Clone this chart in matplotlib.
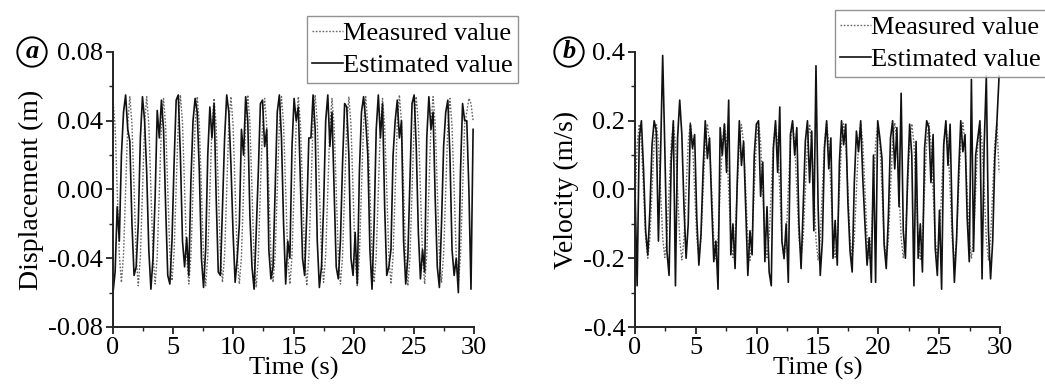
import numpy as np
import matplotlib
matplotlib.use("Agg")
import matplotlib.pyplot as plt
from matplotlib.ticker import MultipleLocator, FuncFormatter

plt.rcParams['font.family'] = ['Liberation Serif', 'DejaVu Serif']

DT = 0.175  # sampling step of the read-off values (s)

disp_measured = [
    0.052, 0.037, 0.000, -0.038, -0.054, -0.038, 0.000, 0.038,
    0.054, 0.038, 0.001, -0.039, -0.056, -0.039, -0.001, 0.038,
    0.054, 0.038, 0.000, -0.038, -0.055, -0.039, 0.000, 0.037,
    0.053, 0.037, -0.001, -0.037, -0.053, -0.037, 0.001, 0.039,
    0.055, 0.039, 0.000, -0.039, -0.055, -0.039, 0.000, 0.038,
    0.054, 0.038, 0.000, -0.040, -0.056, -0.039, -0.001, 0.037,
    0.053, 0.037, 0.001, -0.038, -0.054, -0.038, 0.000, 0.038,
    0.054, 0.038, 0.000, -0.039, -0.055, -0.039, 0.000, 0.039,
    0.055, 0.039, -0.001, -0.040, -0.057, -0.040, 0.001, 0.037,
    0.053, 0.037, 0.000, -0.038, -0.054, -0.038, 0.000, 0.038,
    0.054, 0.038, 0.000, -0.039, -0.055, -0.039, 0.000, 0.038,
    0.054, 0.038, 0.001, -0.039, -0.056, -0.039, -0.001, 0.039,
    0.055, 0.039, 0.000, -0.038, -0.054, -0.038, 0.000, 0.037,
    0.053, 0.037, 0.000, -0.039, -0.055, -0.039, 0.000, 0.038,
    0.054, 0.038, -0.001, -0.040, -0.056, -0.039, 0.001, 0.038,
    0.054, 0.038, 0.000, -0.038, -0.054, -0.038, 0.000, 0.037,
    0.053, 0.037, 0.000, -0.039, -0.055, -0.039, 0.000, 0.039,
    0.055, 0.039, 0.001, -0.039, -0.056, -0.040, -0.001, 0.038,
    0.054, 0.038, 0.000, -0.039, -0.055, -0.038, 0.000, 0.038,
    0.054, 0.038, 0.000, -0.038, -0.054, -0.038, 0.000, 0.037,
    0.053, 0.037, 0.000, -0.039, -0.055, -0.039, 0.000, 0.038,
    0.045, 0.053, 0.050, 0.040,
]

disp_estimated = [
    -0.060, -0.048, -0.010, -0.030, 0.020, 0.045, 0.055, 0.035,
    0.028, -0.020, -0.050, -0.045, -0.020, 0.030, 0.054, 0.040,
    0.010, -0.035, -0.058, -0.040, -0.005, 0.046, 0.030, 0.052,
    0.035, -0.010, -0.050, -0.055, -0.030, 0.015, 0.052, 0.055,
    0.020, -0.030, -0.045, -0.028, -0.050, 0.005, 0.040, 0.053,
    0.045, 0.010, -0.040, -0.057, -0.035, 0.020, 0.048, 0.030,
    0.050, -0.005, -0.048, -0.050, -0.010, 0.030, 0.055, 0.045,
    0.015, -0.025, -0.054, -0.040, -0.020, 0.035, 0.020, 0.054,
    0.040, -0.015, -0.045, -0.058, -0.025, 0.010, 0.050, 0.052,
    0.025, 0.035, -0.035, -0.052, -0.045, 0.000, 0.045, 0.055,
    0.030, -0.020, -0.055, -0.030, -0.040, 0.025, 0.053, 0.040,
    0.048, 0.005, -0.040, -0.050, -0.015, 0.030, 0.030, 0.055,
    0.035, -0.030, -0.057, -0.045, -0.010, 0.040, 0.055, 0.025,
    0.045, 0.000, -0.045, -0.052, -0.030, 0.015, 0.050, 0.048,
    0.020, -0.040, -0.050, -0.025, -0.055, 0.010, 0.045, 0.054,
    0.040, 0.020, -0.035, -0.058, -0.020, 0.035, 0.055, 0.030,
    0.050, -0.010, -0.050, -0.045, -0.035, 0.020, 0.040, 0.052,
    0.030, 0.040, -0.030, -0.055, -0.040, 0.005, 0.050, 0.055,
    0.025, -0.025, -0.052, -0.035, -0.048, 0.030, 0.054, 0.035,
    0.045, -0.005, -0.045, -0.057, -0.020, 0.025, 0.045, 0.052,
    0.020, -0.035, -0.050, -0.040, -0.060, 0.010, 0.050, 0.040,
    0.040, 0.000, -0.058, 0.035,
]

vel_measured = [
    -0.050, 0.130, 0.190, 0.134, 0.000, -0.142, -0.200, -0.141,
    0.001, 0.136, 0.193, 0.136, 0.001, -0.140, -0.198, -0.140,
    0.000, 0.134, 0.190, 0.134, -0.001, -0.145, -0.205, -0.145,
    0.000, 0.137, 0.194, 0.137, 0.000, -0.139, -0.196, -0.139,
    0.001, 0.135, 0.191, 0.135, 0.000, -0.143, -0.202, -0.143,
    0.000, 0.136, 0.192, 0.136, 0.001, -0.140, -0.198, -0.140,
    -0.001, 0.134, 0.189, 0.134, 0.000, -0.146, -0.206, -0.146,
    0.000, 0.138, 0.195, 0.138, 0.000, -0.140, -0.198, -0.140,
    0.000, 0.135, 0.191, 0.135, -0.001, -0.143, -0.202, -0.143,
    0.001, 0.136, 0.193, 0.136, 0.000, -0.141, -0.199, -0.141,
    0.000, 0.134, 0.190, 0.134, 0.000, -0.145, -0.205, -0.145,
    0.000, 0.137, 0.194, 0.137, 0.001, -0.139, -0.197, -0.139,
    -0.001, 0.135, 0.191, 0.135, 0.000, -0.143, -0.202, -0.143,
    0.000, 0.136, 0.192, 0.136, 0.000, -0.141, -0.200, -0.141,
    0.001, 0.134, 0.190, 0.134, 0.000, -0.146, -0.207, -0.146,
    0.000, 0.137, 0.194, 0.137, -0.001, -0.140, -0.198, -0.140,
    0.000, 0.135, 0.191, 0.135, 0.000, -0.144, -0.203, -0.144,
    0.001, 0.136, 0.193, 0.136, 0.000, -0.141, -0.199, -0.141,
    0.000, 0.134, 0.190, 0.134, 0.001, -0.148, -0.210, -0.148,
    0.000, 0.137, 0.194, 0.137, 0.000, -0.142, -0.201, -0.142,
    -0.001, 0.135, 0.191, 0.135, 0.000, -0.145, -0.205, -0.145,
    0.000, 0.136, 0.192, 0.050,
]

vel_estimated = [
    0.000, -0.280, 0.150, 0.200, 0.060, -0.120, -0.190, -0.060,
    0.130, 0.200, 0.170, -0.150, 0.100, 0.390, 0.120, -0.180,
    -0.250, 0.080, 0.200, -0.280, 0.150, 0.260, 0.160, -0.050,
    -0.200, -0.100, 0.190, 0.120, 0.160, -0.080, -0.220, -0.130,
    0.060, 0.200, 0.090, 0.150, -0.040, -0.210, -0.150, -0.290,
    0.180, 0.100, 0.190, 0.050, 0.260, -0.190, -0.100, -0.230,
    0.020, 0.200, 0.070, 0.140, -0.060, -0.250, -0.120, -0.190,
    0.100, 0.190, 0.200, -0.020, 0.080, -0.210, -0.050, -0.240,
    -0.280, 0.120, 0.200, 0.050, 0.240, -0.150, -0.200, -0.100,
    -0.270, 0.160, 0.200, 0.100, 0.180, -0.100, -0.230, -0.050,
    0.140, 0.200, 0.020, 0.170, -0.120, 0.360, -0.050, -0.250,
    -0.150, 0.120, 0.200, 0.060, 0.150, -0.200, -0.090, -0.220,
    0.080, 0.200, 0.130, 0.190, -0.040, -0.180, -0.240, 0.020,
    0.170, 0.110, 0.200, 0.030, -0.100, -0.220, -0.140, -0.270,
    0.100, -0.270, 0.200, 0.150, 0.090, -0.160, -0.230, -0.080,
    0.150, 0.200, 0.060, 0.180, -0.050, 0.280, -0.120, -0.200,
    0.030, 0.190, 0.100, -0.280, 0.140, -0.200, -0.100, -0.240,
    0.120, 0.200, 0.180, 0.020, 0.160, -0.170, -0.250, -0.060,
    -0.290, 0.130, 0.200, 0.070, 0.190, -0.100, -0.270, -0.150,
    0.050, 0.200, 0.110, 0.160, -0.080, -0.210, 0.320, -0.180,
    0.100, 0.150, 0.200, -0.260, 0.130, 0.330, -0.120, -0.260,
    -0.150, 0.090, 0.200, 0.330,
]

legend_labels = ["Measured value", "Estimated value"]
x_label = "Time (s)"
y_labels = ["Displacement (m)", "Velocity (m/s)"]
panel_tags = ["a", "b"]

t = np.arange(len(disp_measured)) * DT

W, H = 1045, 387
fig = plt.figure(figsize=(W / 100, H / 100), dpi=100)

def frac(l, r, top, bot):
    return [l / W, 1 - bot / H, (r - l) / W, (bot - top) / H]

FS = 19
axc = "#222222"

def style(ax, ylim, ymaj, ymin, fmt):
    ax.set_xlim(0, 30)
    ax.set_ylim(*ylim)
    ax.spines['top'].set_visible(False)
    ax.spines['right'].set_visible(False)
    for s in ('left', 'bottom'):
        ax.spines[s].set_linewidth(1.4)
        ax.spines[s].set_color(axc)
    ax.xaxis.set_major_locator(MultipleLocator(5))
    ax.xaxis.set_minor_locator(MultipleLocator(2.5))
    ax.yaxis.set_major_locator(MultipleLocator(ymaj))
    ax.yaxis.set_minor_locator(MultipleLocator(ymin))
    ax.yaxis.set_major_formatter(FuncFormatter(lambda v, p: fmt % v if abs(v) > 1e-9 else fmt % 0))
    ax.tick_params(which='major', direction='out', length=5, width=1.3, labelsize=FS, colors=axc, labelcolor='black', pad=2)
    ax.tick_params(which='minor', direction='out', length=3, width=1.0, colors=axc)
    ax.set_xlabel(x_label, fontsize=FS, labelpad=-1)

panels = [
    dict(rect=frac(113, 474, 52, 327), meas=disp_measured, est=disp_estimated,
         ylim=(-0.08, 0.08), ymaj=0.04, ymin=0.02, fmt="%.2f",
         leg=(307 / W, 1 - 16 / H), tag=(32, 52), ylab=y_labels[0]),
    dict(rect=frac(635, 1000, 52, 327), meas=vel_measured, est=vel_estimated,
         ylim=(-0.4, 0.4), ymaj=0.2, ymin=0.1, fmt="%.1f",
         leg=(835 / W, 1 - 10 / H), tag=(569, 52), ylab=y_labels[1]),
]

for i, p in enumerate(panels):
    ax = fig.add_axes(p['rect'])
    ax.patch.set_alpha(0)
    l1, = ax.plot(t, p['meas'], linestyle=(0, (1.2, 1.2)), color='#666666', linewidth=1.0, label=legend_labels[0])
    l2, = ax.plot(t, p['est'], linestyle='-', color='#111111', linewidth=1.2, label=legend_labels[1])
    style(ax, p['ylim'], p['ymaj'], p['ymin'], p['fmt'])
    ax.set_ylabel(p['ylab'], fontsize=FS + 1, labelpad=3)
    lx, ly = p['leg']
    leg = fig.legend([l1, l2], legend_labels, loc='upper left', bbox_to_anchor=(lx, ly),
                     fontsize=FS, frameon=True, fancybox=False, handlelength=1.15,
                     handletextpad=0.0, borderpad=0.2, labelspacing=0.35, borderaxespad=0)
    leg.get_frame().set_edgecolor('#777777')
    leg.get_frame().set_linewidth(1.0)
    tx, ty = p['tag']
    fig.text(tx / W, 1 - ty / H, panel_tags[i], fontsize=FS, fontweight='bold', fontstyle='italic',
             ha='center', va='center',
             bbox=dict(boxstyle='circle,pad=0.12', facecolor='white', edgecolor='black', linewidth=1.4))

fig.savefig("out.png", dpi=100)
